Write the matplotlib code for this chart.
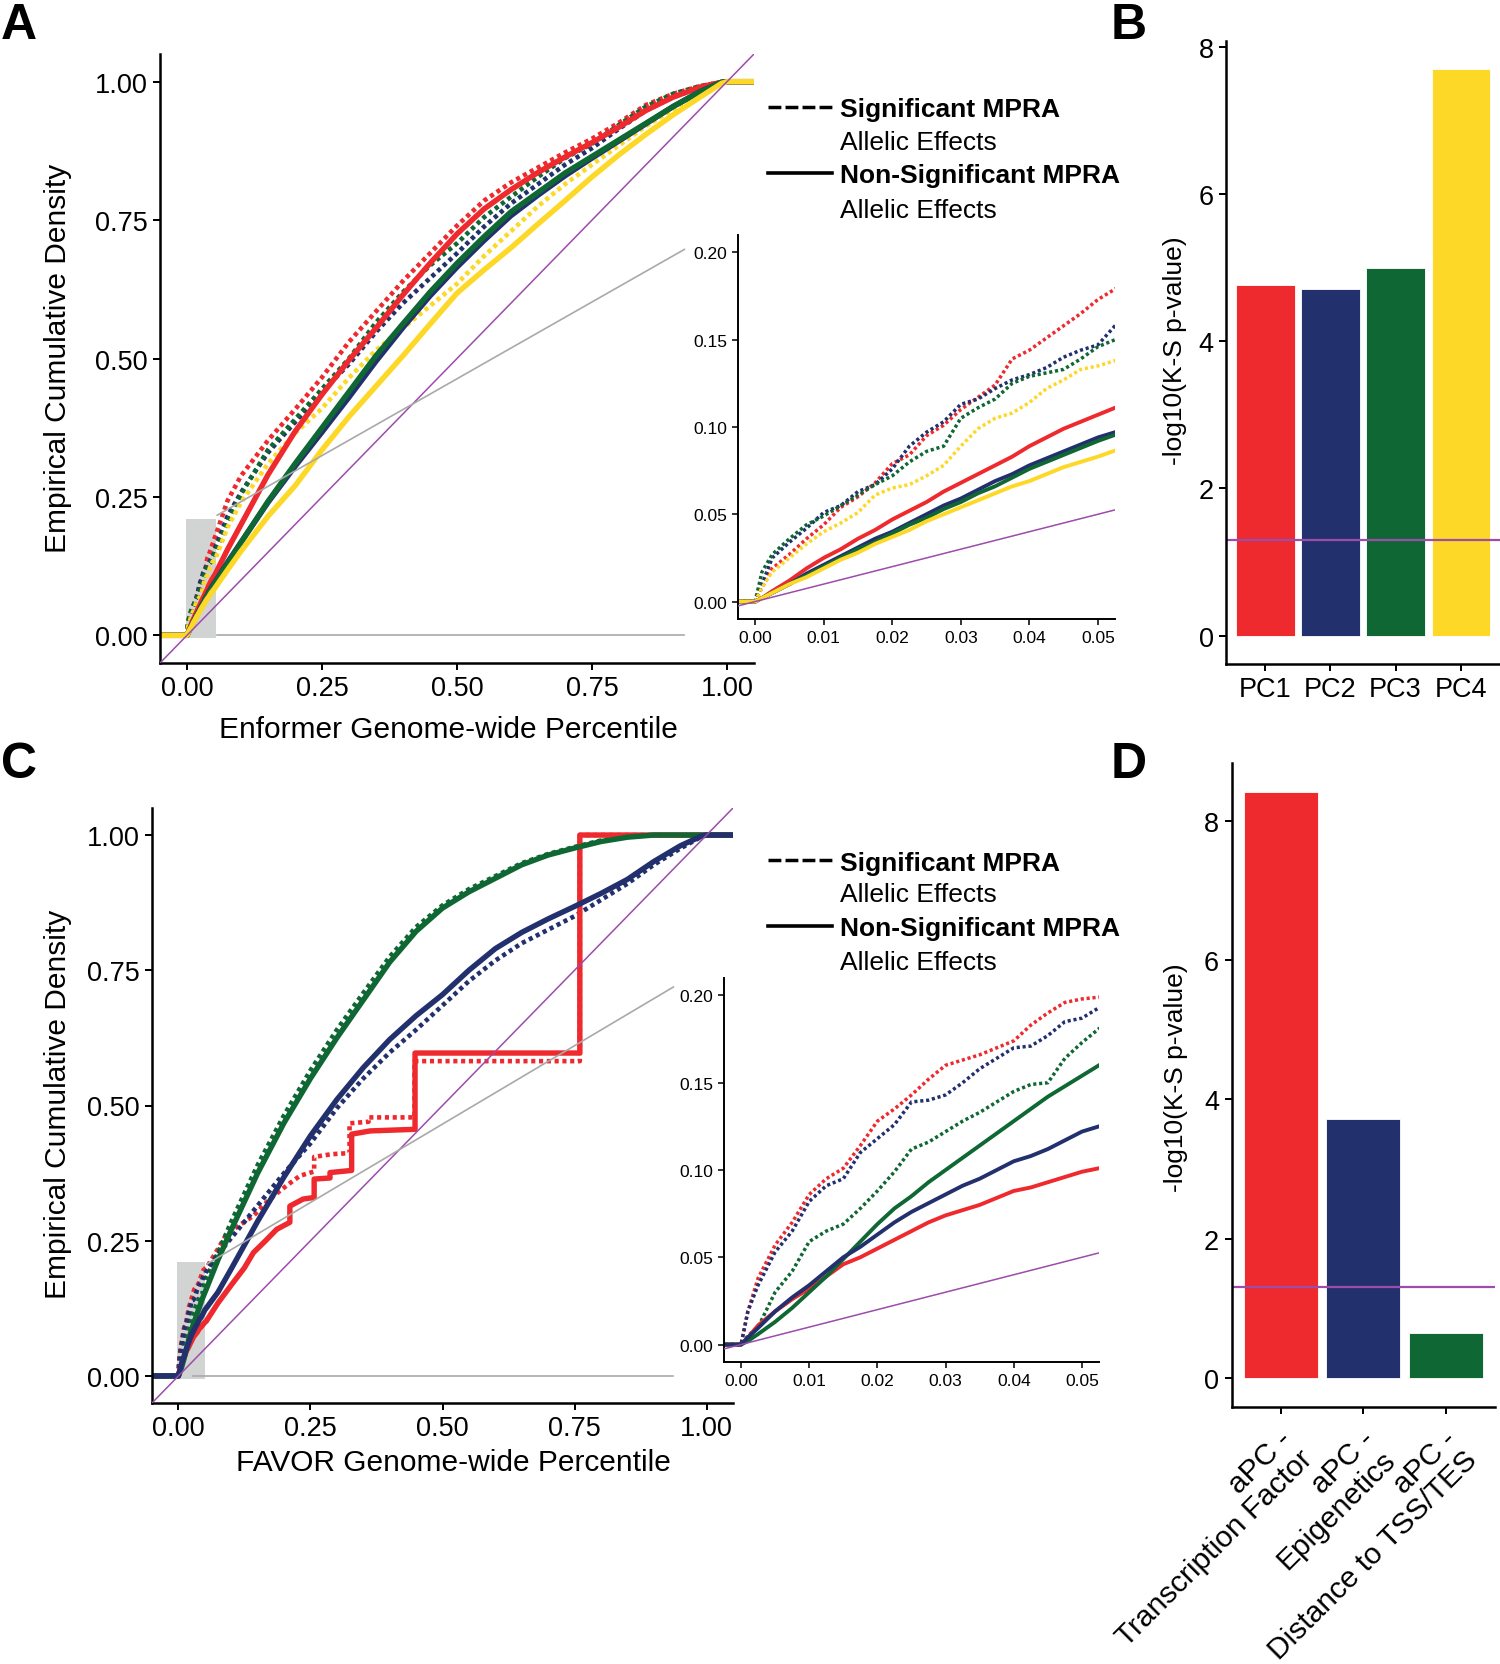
import numpy as np
import matplotlib.pyplot as plt
from matplotlib.lines import Line2D
from matplotlib.patches import Rectangle
from matplotlib.transforms import blended_transform_factory, offset_copy

plt.rcParams['font.family'] = ['Liberation Sans', 'DejaVu Sans']

W, H = 1500, 1665

# ---------------- data ----------------
# percentile grid: fine part (inset range) + coarse part
zoom_x = [0, 0.001, 0.0025, 0.005, 0.0075, 0.01, 0.0125, 0.015, 0.0175, 0.02, 0.0225,
          0.025, 0.0275, 0.03, 0.0325, 0.035, 0.0375, 0.04, 0.0425, 0.045, 0.0475, 0.05, 0.0525]
wide_x = [0.075, 0.1, 0.15, 0.2, 0.25, 0.3, 0.35, 0.4, 0.45, 0.5, 0.55, 0.6, 0.65, 0.7,
          0.75, 0.8, 0.85, 0.9, 0.95, 0.99, 1.0]
grid_x = zoom_x + wide_x

# Enformer ECDFs (A)
enf_pc1_sig = [0, .008, .019, .027, .036, .044, .054, .060, .068, .079, .084, .095, .101, .110, .117, .124, .139, .144, .151, .158, .165, .173, .179,
               .243, .288, .352, .408, .466, .530, .585, .640, .690, .740, .785, .818, .845, .872, .897, .926, .958, .978, .992, .999, 1.0]
enf_pc2_sig = [0, .010, .025, .034, .042, .051, .055, .063, .067, .076, .089, .097, .103, .113, .116, .122, .127, .130, .134, .140, .144, .147, .158,
               .215, .258, .330, .385, .440, .490, .548, .600, .645, .690, .738, .780, .815, .850, .880, .915, .948, .972, .990, .999, 1.0]
enf_pc3_sig = [0, .017, .027, .036, .044, .049, .055, .061, .067, .072, .080, .086, .089, .105, .111, .116, .125, .129, .131, .133, .139, .146, .150,
               .205, .255, .335, .390, .445, .500, .565, .620, .668, .708, .755, .792, .828, .862, .888, .922, .955, .978, .992, .999, 1.0]
enf_pc4_sig = [0, .008, .017, .025, .033, .040, .045, .051, .061, .065, .067, .072, .078, .089, .099, .105, .108, .114, .122, .127, .133, .135, .138,
               .195, .240, .310, .365, .410, .465, .515, .555, .595, .635, .685, .730, .775, .815, .850, .885, .920, .950, .978, .998, 1.0]
enf_pc1_ns = [0, .002, .006, .012, .019, .025, .030, .036, .041, .047, .052, .057, .063, .068, .073, .078, .083, .089, .094, .099, .103, .107, .111,
              .155, .200, .290, .368, .435, .497, .555, .615, .672, .725, .770, .805, .836, .864, .890, .918, .948, .972, .990, .999, 1.0]
enf_pc2_ns = [0, .002, .005, .010, .016, .021, .026, .031, .036, .040, .045, .050, .055, .059, .064, .069, .073, .078, .082, .086, .090, .094, .097,
              .132, .168, .240, .305, .367, .430, .495, .556, .613, .665, .713, .758, .795, .830, .862, .893, .924, .955, .982, .999, 1.0]
enf_pc3_ns = [0, .002, .005, .010, .015, .020, .025, .030, .034, .039, .044, .048, .053, .057, .062, .066, .071, .076, .080, .084, .088, .092, .0955,
              .130, .168, .242, .310, .375, .440, .505, .563, .620, .672, .720, .765, .800, .835, .865, .895, .925, .955, .982, .999, 1.0]
enf_pc4_ns = [0, .002, .005, .010, .014, .019, .024, .028, .033, .037, .041, .046, .050, .054, .058, .062, .066, .069, .073, .077, .080, .083, .0865,
              .118, .152, .215, .270, .335, .395, .450, .505, .562, .618, .660, .700, .743, .785, .828, .868, .905, .940, .972, .997, 1.0]

# FAVOR ECDFs (C)
fav_tf_sig_zoom = [0, .019, .038, .057, .070, .086, .095, .101, .114, .128, .135, .143, .152, .160, .163, .166, .170, .174, .183, .190, .196, .198, .199]
fav_tf_sig_tail_x = [0.075, 0.09, 0.11, 0.142, 0.173, 0.205, 0.23, 0.257, 0.257, 0.29, 0.324, 0.324, 0.36, 0.36, 0.447, 0.447, 0.76, 0.76, 1.0]
fav_tf_sig_tail_y = [.235, .26, .275, .296, .327, .352, .37, .378, .405, .41, .412, .467, .47, .478, .478, .582, .582, 1.0, 1.0]
fav_tf_ns_zoom = [0, .004, .011, .019, .026, .032, .039, .046, .050, .055, .060, .065, .070, .074, .077, .080, .084, .088, .090, .093, .096, .099, .101]
fav_tf_ns_tail_x = [0.075, 0.1, 0.125, 0.142, 0.165, 0.186, 0.211, 0.211, 0.236, 0.257, 0.257, 0.287, 0.287, 0.328, 0.328, 0.363, 0.448, 0.448, 0.76, 0.76, 1.0]
fav_tf_ns_tail_y = [.135, .168, .20, .228, .25, .271, .284, .314, .327, .33, .364, .366, .376, .38, .447, .453, .456, .597, .597, 1.0, 1.0]
fav_epi_sig = [0, .019, .034, .053, .065, .082, .091, .095, .110, .118, .126, .139, .140, .143, .150, .158, .164, .170, .171, .177, .185, .187, .193,
               .225, .255, .315, .375, .430, .495, .550, .598, .640, .685, .730, .768, .800, .825, .850, .880, .910, .945, .975, .997, 1.0]
fav_epi_ns = [0, .004, .0095, .019, .027, .034, .042, .050, .056, .063, .070, .076, .081, .086, .091, .095, .100, .105, .108, .112, .117, .122, .125,
              .155, .198, .286, .368, .444, .511, .570, .622, .666, .705, .750, .790, .820, .845, .868, .892, .918, .951, .980, .998, 1.0]
fav_tss_sig = [0, .005, .010, .030, .042, .059, .065, .069, .078, .088, .099, .112, .116, .122, .128, .133, .139, .145, .149, .150, .164, .173, .181,
               .228, .285, .390, .482, .565, .640, .708, .775, .830, .870, .900, .924, .948, .965, .978, .990, .997, 1.0, 1.0, 1.0, 1.0]
fav_tss_ns = [0, .002, .006, .013, .021, .030, .039, .049, .059, .069, .078, .085, .093, .100, .107, .114, .121, .128, .135, .142, .148, .154, .160,
              .215, .270, .375, .468, .550, .625, .695, .765, .822, .865, .895, .920, .945, .963, .976, .988, .996, 1.0, 1.0, 1.0, 1.0]

# K-S tests (B, D)
pc_labels = ['PC1', 'PC2', 'PC3', 'PC4']
pc_logp = [4.76, 4.71, 5.00, 7.70]
apc_labels = ['aPC -\nTranscription Factor', 'aPC -\nEpigenetics', 'aPC -\nDistance to TSS/TES']
apc_logp = [8.41, 3.72, 0.65]
sig_level = 0.05

RED = '#EE2A2E'
BLUE = '#22306E'
GREEN = '#0F6834'
YELLOW = '#FDD827'
PURPLE = '#9C4CAA'
GREY = '#A9A9A9'


def box(l, t, r, b):
    return [l / W, 1 - b / H, (r - l) / W, (b - t) / H]


def pad(x, y):
    # ecdf keeps 0 before the first and 1 after the last value
    return [-1.0] + list(x) + [2.0], [0.0] + list(y) + [1.0]


def clean(ax, size, lw=1.8, length=5):
    ax.spines[['top', 'right']].set_visible(False)
    ax.spines[['left', 'bottom']].set_linewidth(lw)
    ax.tick_params(length=length, width=lw * 0.8, labelsize=size, pad=4, colors='black')


def draw_curves(ax, curves, lw_solid, lw_dot):
    # significant (dotted) first, then the solid ones on top
    for x, y, c, sig in curves:
        if sig:
            ax.plot(*pad(x, y), color=c, lw=lw_dot, ls=(0, (0.9, 0.8)))
    for x, y, c, sig in curves:
        if not sig:
            ax.plot(*pad(x, y), color=c, lw=lw_solid)
    ax.axline((0, 0), slope=1, color=PURPLE, lw=1.1, zorder=5)


def ecdf_panel(main_box, inset_box, curves, rect_x, up_line, low_line):
    ax = fig.add_axes(main_box)
    ax.add_patch(Rectangle((-0.0025, -0.005), rect_x + 0.0025, 0.215, color='#D2D4D4', lw=0, zorder=0.5))
    draw_curves(ax, curves, 3.9, 3.3)
    ax.plot(*up_line, color=GREY, lw=1.2, zorder=6)
    ax.plot(*low_line, color=GREY, lw=1.2, zorder=6)
    ax.set_xlim(-0.05, 1.05)
    ax.set_ylim(-0.05, 1.05)
    ax.set_xticks([0, 0.25, 0.5, 0.75, 1.0])
    ax.set_yticks([0, 0.25, 0.5, 0.75, 1.0])
    ax.xaxis.set_major_formatter('{x:.2f}')
    ax.yaxis.set_major_formatter('{x:.2f}')
    clean(ax, 19.5)

    ins = fig.add_axes(inset_box)
    ins.patch.set_alpha(0)
    draw_curves(ins, curves, 2.8, 2.5)
    ins.set_xlim(-0.0025, 0.0525)
    ins.set_ylim(-0.01, 0.21)
    ins.set_xticks([0, 0.01, 0.02, 0.03, 0.04, 0.05])
    ins.set_yticks([0, 0.05, 0.10, 0.15, 0.20])
    ins.xaxis.set_major_formatter('{x:.2f}')
    ins.yaxis.set_major_formatter('{x:.2f}')
    clean(ins, 12.5, lw=1.4, length=4)
    return ax


def legend(rows):
    y = [1 - r / H for r in rows]
    fig.add_artist(Line2D([768 / W, 832 / W], [y[0]] * 2, color='black', lw=2.5, ls=(0, (3.7, 1.2))))
    fig.add_artist(Line2D([768 / W, 832 / W], [y[2]] * 2, color='black', lw=2.6))
    base = 9.5 / H
    fig.text(840 / W, y[0] - base, 'Significant MPRA', weight='bold', size=19, va='baseline')
    fig.text(840 / W, y[1] - base, 'Allelic Effects', size=19, va='baseline')
    fig.text(840 / W, y[2] - base, 'Non-Significant MPRA', weight='bold', size=19, va='baseline')
    fig.text(840 / W, y[3] - base, 'Allelic Effects', size=19, va='baseline')


def bar_panel(bbox, vals, colors, ylim):
    ax = fig.add_axes(bbox)
    pos = np.arange(1, len(vals) + 1)
    ax.bar(pos, vals, width=0.9, color=colors, edgecolor='white', lw=0.6)
    ax.axhline(-np.log10(sig_level), color=PURPLE, lw=1.6)
    ax.set_xlim(0.4, len(vals) + 0.6)
    ax.set_ylim(*ylim)
    ax.set_yticks([0, 2, 4, 6, 8])
    ax.set_xticks(pos)
    clean(ax, 19.5)
    return ax, pos


fig = plt.figure(figsize=(15, 16.65), dpi=100)

# ---- A ----
curves_a = [(grid_x, enf_pc1_sig, RED, True), (grid_x, enf_pc2_sig, BLUE, True),
            (grid_x, enf_pc3_sig, GREEN, True), (grid_x, enf_pc4_sig, YELLOW, True),
            (grid_x, enf_pc1_ns, RED, False), (grid_x, enf_pc2_ns, BLUE, False),
            (grid_x, enf_pc3_ns, GREEN, False), (grid_x, enf_pc4_ns, YELLOW, False)]
ecdf_panel(box(160, 55, 754, 664), box(738, 236, 1115, 620), curves_a, 0.053,
           ([0.056, 0.921], [0.217, 0.697]), ([0.056, 0.921], [0.0, 0.0]))
legend([108, 140, 174, 208])
fig.text(448 / W, 1 - 730 / H, 'Enformer Genome-wide Percentile', size=21.5, ha='center', va='center')
fig.text(58 / W, 1 - 358 / H, 'Empirical Cumulative Density', size=21.5, ha='center', va='center', rotation=90)

# ---- B ----
axB, posB = bar_panel(box(1226, 41.5, 1500, 665), pc_logp, [RED, BLUE, GREEN, YELLOW], (-0.385, 8.085))
axB.set_xticklabels(pc_labels)
fig.text(1175 / W, 1 - 351 / H, '-log10(K-S p-value)', size=19, ha='center', va='center', rotation=90)

# ---- C ----
tf_sig_x = zoom_x + fav_tf_sig_tail_x
tf_sig_y = fav_tf_sig_zoom + fav_tf_sig_tail_y
tf_ns_x = zoom_x + fav_tf_ns_tail_x
tf_ns_y = fav_tf_ns_zoom + fav_tf_ns_tail_y
curves_c = [(tf_sig_x, tf_sig_y, RED, True), (grid_x, fav_tss_sig, GREEN, True),
            (grid_x, fav_epi_sig, BLUE, True),
            (tf_ns_x, tf_ns_y, RED, False), (grid_x, fav_tss_ns, GREEN, False),
            (grid_x, fav_epi_ns, BLUE, False)]
ecdf_panel(box(152, 809, 733, 1404), box(724, 979, 1099, 1363), curves_c, 0.05,
           ([0.054, 0.937], [0.207, 0.719]), ([0.027, 0.937], [0.0, 0.0]))
legend([861, 893, 927, 961])
fig.text(453 / W, 1 - 1463 / H, 'FAVOR Genome-wide Percentile', size=21.5, ha='center', va='center')
fig.text(58 / W, 1 - 1104 / H, 'Empirical Cumulative Density', size=21.5, ha='center', va='center', rotation=90)

# ---- D ----
axD, posD = bar_panel(box(1231.5, 764, 1495, 1408), apc_logp, [RED, BLUE, GREEN], (-0.42, 8.83))
axD.set_xticklabels([])
lab_tr = offset_copy(blended_transform_factory(axD.transData, axD.transAxes), fig=fig, x=-3, y=-17, units='dots')
for p, lab in zip(posD, apc_labels):
    axD.text(p, 0, lab, transform=lab_tr, rotation=45, rotation_mode='anchor', ha='right', va='top',
             multialignment='right', linespacing=1.05, size=21.5, clip_on=False)
fig.text(1176 / W, 1 - 1078 / H, '-log10(K-S p-value)', size=19, ha='center', va='center', rotation=90)

# panel letters
for s, px, py in [('A', 19, 39), ('B', 1129, 39), ('C', 19, 778), ('D', 1129, 778)]:
    fig.text(px / W, 1 - py / H, s, size=36, weight='bold', ha='center', va='baseline')

fig.savefig('out.png', dpi=100)
